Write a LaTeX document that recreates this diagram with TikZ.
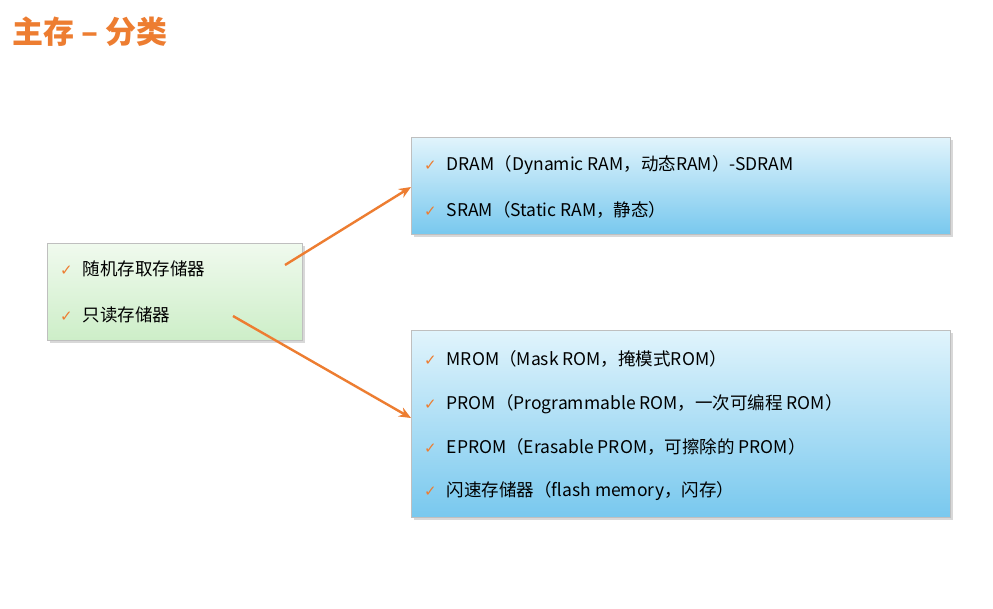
\documentclass[tikz,border=0pt]{standalone}
\usepackage{fontspec}
\setmainfont{Noto Sans CJK SC}
\newfontfamily\dv{DejaVu Sans}
\usetikzlibrary{arrows.meta,shadows}
\definecolor{org}{RGB}{237,125,49}
\definecolor{gtop}{RGB}{240,250,238}
\definecolor{gbot}{RGB}{205,238,200}
\definecolor{btop}{RGB}{225,244,252}
\definecolor{bbot}{RGB}{120,200,238}
\tikzset{
 gbox/.style={draw=gray!50, top color=gtop, bottom color=gbot, drop shadow={opacity=0.3}},
 bbox/.style={draw=gray!50, top color=btop, bottom color=bbot, drop shadow={opacity=0.3}},
 item/.style={anchor=west, font=\fontsize{17.5}{19}\selectfont, inner sep=0pt},
 arr/.style={draw=org, line width=2.4pt, -{Stealth[length=12pt,width=10pt]}}
}
\newcommand{\ck}{{\dv\color{org}\fontsize{15}{15}\selectfont ✓}\hspace{10pt}}
\begin{document}
\begin{tikzpicture}[x=1pt,y=-1pt]
\useasboundingbox[fill=white] (0,0) rectangle (993,608);
\node[anchor=west, text=org, font=\fontsize{31}{33}\selectfont\bfseries] (title) at (9,32) {主存 – 分类};
\node[gbox, minimum width=255, minimum height=97, anchor=north west] (L) at (47,243) {};
\node[bbox, minimum width=539, minimum height=97, anchor=north west] (T) at (411,137) {};
\node[bbox, minimum width=539, minimum height=187, anchor=north west] (B) at (411,330) {};
\node[item] (l1) at (60,269) {\ck 随机存取存储器};
\node[item] (l2) at (60,315) {\ck 只读存储器};
\node[item] (t1) at (424,165) {\ck DRAM（Dynamic RAM，动态RAM）-SDRAM};
\node[item] (t2) at (424,210) {\ck SRAM（Static RAM，静态）};
\node[item] (b1) at (424,359) {\ck MROM（Mask ROM，掩模式ROM）};
\node[item] (b2) at (424,404) {\ck PROM（Programmable ROM，一次可编程 ROM）};
\node[item] (b3) at (424,447) {\ck EPROM（Erasable PROM，可擦除的 PROM）};
\node[item] (b4) at (424,491) {\ck 闪速存储器（flash memory，闪存）};
\coordinate (s1) at (285,265); \coordinate (e1) at (411,187);
\coordinate (s2) at (233,316); \coordinate (e2) at (411,418);
\draw[arr] (s1) -- (e1);
\draw[arr] (s2) -- (e2);
\end{tikzpicture}
\end{document}
